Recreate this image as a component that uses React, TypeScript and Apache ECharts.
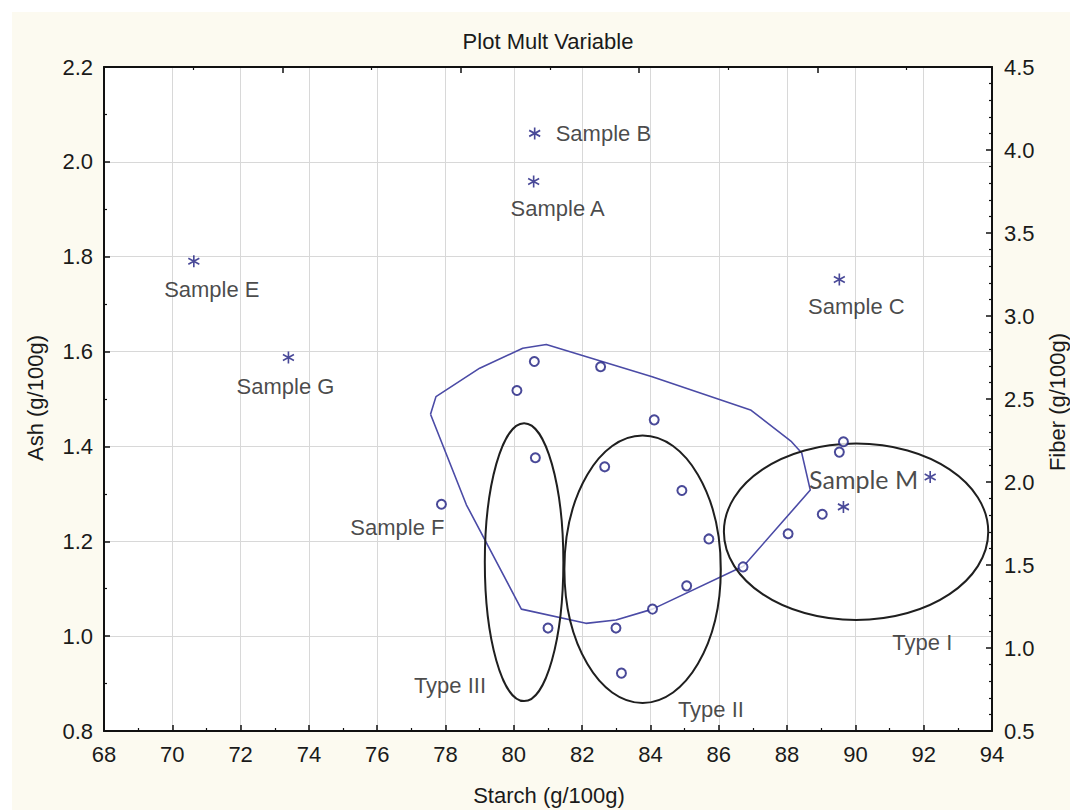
import React, { useEffect, useRef } from "react";
import * as echarts from "echarts";

// ---- Data ----
// Ash (left axis) vs Starch — open circles
const ashStarch = [80.6, 80.09, 82.54, 84.11, 80.63, 82.66, 84.92, 85.71, 77.88, 86.71, 85.06, 84.06, 88.03, 89.65, 89.53, 89.03, 81.0, 82.99, 83.15];
const ashValues = [1.579, 1.518, 1.568, 1.456, 1.376, 1.357, 1.307, 1.205, 1.278, 1.146, 1.106, 1.057, 1.216, 1.41, 1.388, 1.257, 1.017, 1.017, 0.922];

// Fiber (right axis) vs Starch — asterisks
const sampleNames = ["Sample B", "Sample A", "Sample E", "Sample G", "Sample C", "Sample M", ""];
const sampleStarch = [80.61, 80.58, 70.63, 73.4, 89.53, 92.19, 89.65];
const sampleFiber = [4.1, 3.81, 3.33, 2.75, 3.22, 2.03, 1.85];

// Sample F label belongs to this circle
const sampleFStarch = 77.88;
const sampleFAsh = 1.278;

// Blue enclosing polygon (starch, ash)
const hullStarch = [77.56, 77.72, 79.0, 80.26, 80.95, 84.05, 86.93, 88.13, 88.43, 88.68, 87.84, 86.73, 84.06, 82.99, 82.11, 80.22, 78.61, 77.56];
const hullAsh = [1.468, 1.505, 1.565, 1.607, 1.615, 1.547, 1.477, 1.41, 1.386, 1.308, 1.239, 1.148, 1.057, 1.034, 1.027, 1.057, 1.277, 1.468];

// Group ellipses: centre and half-axes in data units
const ellipseNames = ["Type III", "Type II", "Type I"];
const ellipseCenterStarch = [80.3, 83.77, 90.02];
const ellipseCenterAsh = [1.156, 1.141, 1.22];
const ellipseHalfStarch = [1.15, 2.29, 3.87];
const ellipseHalfAsh = [0.293, 0.282, 0.186];
const typeLabelStarch = [78.13, 85.77, 91.96];
const typeLabelAsh = [0.895, 0.846, 0.986];

// Axis settings
const starchMin = 68, starchMax = 94, starchStep = 2;
const ashMin = 0.8, ashMax = 2.2, ashStep = 0.2;
const fiberMin = 0.5, fiberMax = 4.5, fiberStep = 0.5;

const FONT = '"Liberation Sans", Arial, sans-serif';
const NAVY = "#1b1b7e";
const TEXT = "#1a1a1a";
const CREAM = "#fcfaf0";

const asteriskPath = "path://M10 0 L10 20 M1.34 5 L18.66 15 M1.34 15 L18.66 5";

const sampleLabelLayout: Record<string, any> = {
  "Sample B": { offset: [21, 0], align: "left" },
  "Sample A": { offset: [24, 27], align: "center" },
  "Sample E": { offset: [18, 28], align: "center" },
  "Sample G": { offset: [-3, 29], align: "center" },
  "Sample C": { offset: [17, 27], align: "center" },
  "Sample M": { offset: [-12, 2], align: "right", fontFamily: "Lato, 'Open Sans', sans-serif", fontSize: 25 },
};

export default function App() {
  const ref = useRef<HTMLDivElement>(null);

  useEffect(() => {
    if (!ref.current) return;
    const chart = echarts.init(ref.current, undefined, { renderer: "svg" });

    const axisLine = { show: true, lineStyle: { color: "#111", width: 2 } };
    const tick = { show: true, inside: true, length: 6, lineStyle: { color: "#111", width: 1.5 } };
    const minor = (n: number) => ({ show: true, splitNumber: n, length: 3, lineStyle: { color: "#111", width: 1.2 } });
    const labelStyle = { fontSize: 22, fontFamily: FONT, color: TEXT };

    const option: any = {
      animation: false,
      backgroundColor: CREAM,
      graphic: {
        elements: [
          { type: "rect", silent: true, shape: { x: 0, y: 0, width: 1070, height: 12 }, style: { fill: "#ffffff" } },
          { type: "rect", silent: true, shape: { x: 0, y: 0, width: 12, height: 810 }, style: { fill: "#ffffff" } },
          { type: "text", x: 548, y: 41, style: { text: "Plot Mult Variable", font: `22px ${FONT}`, fill: TEXT, align: "center", verticalAlign: "middle" } },
          { type: "text", x: 549, y: 795, style: { text: "Starch (g/100g)", font: `22px ${FONT}`, fill: TEXT, align: "center", verticalAlign: "middle" } },
          { type: "text", x: 35, y: 398, rotation: Math.PI / 2, style: { text: "Ash (g/100g)", font: `22px ${FONT}`, fill: TEXT, align: "center", verticalAlign: "middle" } },
          { type: "text", x: 1057, y: 402, rotation: Math.PI / 2, style: { text: "Fiber (g/100g)", font: `22px ${FONT}`, fill: TEXT, align: "center", verticalAlign: "middle" } },
        ],
      },
      grid: { left: 104, right: 78, top: 67, bottom: 79, show: true, backgroundColor: "#ffffff", borderWidth: 0 },
      xAxis: [
        {
          type: "value", min: starchMin, max: starchMax, interval: starchStep, position: "bottom",
          axisLine, axisTick: tick, minorTick: minor(2),
          axisLabel: { ...labelStyle, margin: 12 },
          splitLine: { show: true, lineStyle: { color: "#d8d8d8", width: 1 } },
        },
        {
          type: "value", min: 0, max: 4.98, interval: 1, position: "top",
          axisLine, axisTick: tick, minorTick: minor(2),
          axisLabel: { show: false }, splitLine: { show: false },
        },
      ],
      yAxis: [
        {
          type: "value", min: ashMin, max: ashMax, interval: ashStep, position: "left",
          axisLine, axisTick: tick, minorTick: minor(2),
          axisLabel: { ...labelStyle, margin: 11, formatter: (v: number) => v.toFixed(1) },
          splitLine: { show: true, lineStyle: { color: "#d8d8d8", width: 1 } },
        },
        {
          type: "value", min: fiberMin, max: fiberMax, interval: fiberStep, position: "right",
          axisLine, axisTick: tick, minorTick: minor(5),
          axisLabel: { ...labelStyle, margin: 12, formatter: (v: number) => v.toFixed(1) },
          splitLine: { show: false },
        },
      ],
      series: [
        {
          type: "line", name: "hull", xAxisIndex: 0, yAxisIndex: 0,
          data: hullStarch.map((x, i) => [x, hullAsh[i]]),
          symbol: "none", lineStyle: { color: "#4b4ba6", width: 1.6 }, z: 2,
        },
        {
          type: "custom", name: "groups", xAxisIndex: 0, yAxisIndex: 0,
          data: ellipseNames.map((n, i) => [ellipseCenterStarch[i], ellipseCenterAsh[i], ellipseHalfStarch[i], ellipseHalfAsh[i]]),
          encode: { x: 0, y: 1 },
          renderItem: (params: any, api: any) => {
            const c = api.coord([api.value(0), api.value(1)]);
            const s = api.size([api.value(2), api.value(3)]);
            return {
              type: "ellipse",
              shape: { cx: c[0], cy: c[1], rx: s[0], ry: s[1] },
              style: { fill: "none", stroke: "#1f1f1f", lineWidth: 2 },
            };
          },
          z: 3,
        },
        {
          type: "scatter", name: "Ash", xAxisIndex: 0, yAxisIndex: 0,
          data: ashStarch.map((x, i) => [x, ashValues[i]]),
          symbol: "emptyCircle", symbolSize: 9,
          itemStyle: { color: NAVY, borderColor: NAVY, borderWidth: 2 }, z: 5,
        },
        {
          type: "scatter", name: "Fiber", xAxisIndex: 0, yAxisIndex: 1,
          data: sampleStarch.map((x, i) => {
            const nm = sampleNames[i];
            const lay = sampleLabelLayout[nm];
            return {
              value: [x, sampleFiber[i]], name: nm,
              label: lay
                ? { show: true, position: "inside", formatter: nm, fontSize: lay.fontSize || 22, fontFamily: lay.fontFamily || FONT, color: TEXT, align: lay.align, verticalAlign: "middle", offset: lay.offset }
                : { show: false },
            };
          }),
          symbol: asteriskPath, symbolSize: [11, 12],
          itemStyle: { color: NAVY, borderColor: NAVY, borderWidth: 1.7 }, z: 6,
        },
        {
          type: "scatter", name: "labels", xAxisIndex: 0, yAxisIndex: 0,
          data: [
            { value: [sampleFStarch, sampleFAsh], name: "Sample F", label: { offset: [-44, 23] } },
            ...ellipseNames.map((n, i) => ({ value: [typeLabelStarch[i], typeLabelAsh[i]], name: n })),
          ],
          symbolSize: 1, itemStyle: { color: "rgba(0,0,0,0)" },
          label: { show: true, position: "inside", formatter: "{b}", fontSize: 22, fontFamily: FONT, color: TEXT, align: "center", verticalAlign: "middle" },
          z: 7, silent: true,
        },
      ],
    };

    chart.setOption(option);
    return () => chart.dispose();
  }, []);

  return <div ref={ref} style={{ position: "absolute", left: 0, top: 0, width: 1070, height: 810 }} />;
}
